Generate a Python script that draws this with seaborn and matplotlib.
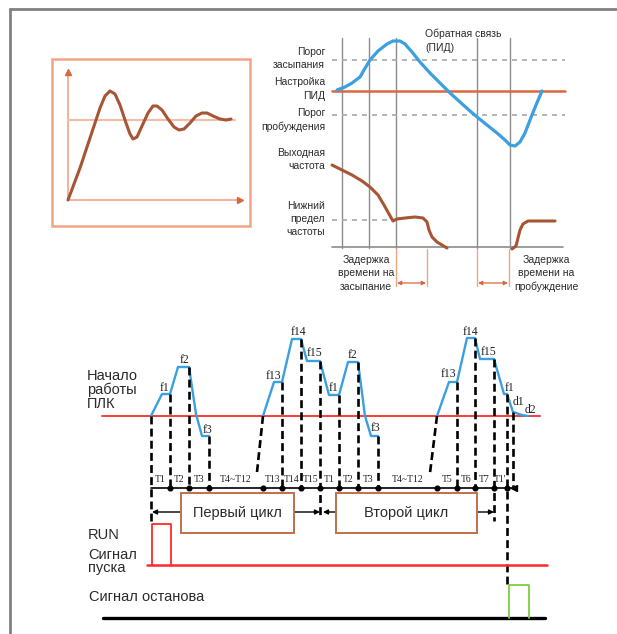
import matplotlib
matplotlib.use("Agg")
import matplotlib.pyplot as plt
from matplotlib.patches import Rectangle
import pandas as pd
import seaborn as sns

# ===================== DATA (pixel space of the original scheme) =====================
# left inset: PID step response
pid_x = [68, 80, 92, 100, 105, 110, 115, 120, 126, 130, 133, 137, 142, 148, 153, 157, 162,
         168, 174, 179, 184, 190, 196, 202, 207, 213, 220, 226, 231]
pid_y = [200, 168, 132, 108, 96, 91, 94, 105, 123, 134, 139, 137, 126, 113, 106, 106, 110,
         119, 127, 130, 129, 123, 116, 113, 113, 116, 119, 120, 119]
pid_setpoint = 120

# right top: sleep / wake diagram
feedback_x = [337, 345, 352, 360, 364, 370, 378, 387, 393, 400, 405, 412, 420, 430, 440, 450,
              460, 470, 477, 487, 497, 505, 510, 515, 520, 525, 530, 536, 542]
feedback_y = [90, 87, 83, 77, 70, 60, 51, 44, 41, 41, 44, 52, 62, 73, 83, 93,
              102, 111, 117, 125, 133, 140, 145, 146, 142, 133, 120, 105, 91]
freq_sleep_x = [332, 342, 352, 362, 370, 378, 384, 389, 393, 397, 405, 415, 423, 427, 429, 432, 437, 442, 447]
freq_sleep_y = [165, 170, 175, 181, 187, 195, 205, 214, 221, 219, 218, 217, 218, 222, 230, 237, 242, 245, 248]
freq_wake_x = [512, 516, 518, 520, 523, 528, 540, 555]
freq_wake_y = [249, 246, 238, 230, 224, 221, 221, 221]
level_sleep, level_pid, level_wake, level_fmin = 60, 91, 115, 220
time_marks = [342, 369, 396, 477, 510]
level_labels = [("Порог", 52), ("засыпания", 65), ("Настройка", 82), ("ПИД", 96),
                ("Порог", 113), ("пробуждения", 127), ("Выходная", 153), ("частота", 166),
                ("Нижний", 206), ("предел", 219), ("частоты", 232)]

# bottom: PLC multi-speed cycles
cycle1_x = [151, 162, 170, 178, 189, 196, 202, 209]
cycle1_y = [416, 394, 394, 367, 367, 414, 436, 436]
cycle2_x = [263, 274, 282, 292, 301, 307, 320, 329, 339, 348, 358, 365, 371, 378]
cycle2_y = [416, 382, 382, 339, 339, 361, 361, 395, 395, 362, 362, 416, 436, 436]
cycle3_x = [437, 449, 457, 467, 475, 480, 494, 504, 507, 513, 522, 528]
cycle3_y = [416, 382, 382, 338, 338, 359, 359, 394, 394, 412, 415, 416]
speed_labels = [("f1", 165, 388), ("f2", 185, 360), ("f3", 208, 430), ("f13", 273, 376),
                ("f14", 298, 332), ("f15", 315, 353), ("f1", 334, 388), ("f2", 353, 355),
                ("f3", 376, 428), ("f13", 448, 374), ("f14", 470, 332), ("f15", 489, 352),
                ("f1", 510, 388), ("d1", 518, 402), ("d2", 530, 410)]
drop_x = [151, 170, 189, 209, 282, 301, 320, 339, 358, 378, 457, 475, 494, 507, 513]
drop_top = [416, 394, 367, 436, 382, 339, 361, 395, 362, 436, 382, 338, 359, 394, 412]
drop_bottom = [524, 488, 488, 488, 488, 488, 517, 488, 488, 488, 488, 488, 521, 585, 488]
bounds = [151, 170, 189, 209, 263, 282, 301, 320, 339, 358, 378, 437, 457, 475, 494, 507, 514]
step_labels = ["T1", "T2", "T3", "T4~T12", "T13", "T14", "T15", "T1", "T2", "T3",
               "T4~T12", "T5", "T6", "T7", "T1'", ""]
run_x = [152, 152, 171, 171]
run_y = [565, 524, 524, 565]
stop_x = [509, 509, 529, 529]
stop_y = [618, 585, 585, 618]

BLUE = "#3b9fe0"
BROWN = "#a65535"
ORANGE = "#d9683f"
LIGHT_OR = "#f2a486"
GREY = "#8c8c8c"
RED = "#ff2a2a"
TXT = "#2b2b2b"

sns.set_theme(style="white")
plt.rcParams["font.family"] = ["Liberation Sans", "DejaVu Sans"]


def curve(ax, xs, ys, color, lw, **kw):
    df = pd.DataFrame({"x": xs, "y": ys})
    sns.lineplot(data=df, x="x", y="y", sort=False, estimator=None, color=color,
                 lw=lw, ax=ax, **kw)


fig = plt.figure(figsize=(6.17, 6.34), dpi=100)
ax = fig.add_axes([0, 0, 1, 1])

# ===================== FRAME =====================
ax.plot([10, 617], [9, 9], color="#808080", lw=2)
ax.plot([10, 10], [9, 634], color="#808080", lw=2)

# ===================== LEFT INSET =====================
ax.add_patch(Rectangle((52, 59), 198, 167, fill=False, ec=LIGHT_OR, lw=1.8))
ax.plot([68, 68], [200, 72], color=LIGHT_OR, lw=1.2)
ax.plot([68, 238], [200, 200], color=LIGHT_OR, lw=1.2)
ax.plot([68], [72], marker="^", color=ORANGE, ms=4)
ax.plot([240], [200], marker=">", color=ORANGE, ms=4)
ax.plot([68, 235], [pid_setpoint, pid_setpoint], color="#f5bca6", lw=1.5)
curve(ax, pid_x, pid_y, BROWN, 2.2)

# ===================== SLEEP / WAKE =====================
for xm in time_marks:
    ax.plot([xm, xm], [38, 248], color=GREY, lw=1.0)
ax.plot([332, 563], [247, 247], color=GREY, lw=1.2)
for lv in (level_sleep, level_wake):
    ax.plot([332, 565], [lv, lv], color="#a8a8a8", lw=1.2, ls=(0, (3, 3)))
ax.plot([332, 396], [level_fmin, level_fmin], color="#a8a8a8", lw=1.2, ls=(0, (3, 3)))
ax.plot([332, 565], [level_pid, level_pid], color=ORANGE, lw=1.8)
curve(ax, feedback_x, feedback_y, BLUE, 2.3)
curve(ax, freq_sleep_x, freq_sleep_y, BROWN, 2.2)
curve(ax, freq_wake_x, freq_wake_y, BROWN, 2.2)

for txt, yy in level_labels:
    ax.text(325, yy, txt, ha="right", va="center", fontsize=7.5, color=TXT)
ax.text(425, 34, "Обратная связь", ha="left", va="center", fontsize=7.5, color=TXT)
ax.text(425, 48, "(ПИД)", ha="left", va="center", fontsize=7.5, color=TXT)
for i, txt in enumerate(["Задержка", "времени на", "засыпание"]):
    ax.text(366, 260 + 13.5 * i, txt, ha="center", va="center", fontsize=7.5, color=TXT)
for i, txt in enumerate(["Задержка", "времени на", "пробуждение"]):
    ax.text(546, 260 + 13.5 * i, txt, ha="center", va="center", fontsize=7.5, color=TXT)

for xa, xb in [(396, 427), (477, 509)]:
    for xv in (xa, xb):
        ax.plot([xv, xv], [249, 286], color=LIGHT_OR, lw=1.0)
    ax.annotate("", xy=(xa + 1, 283), xytext=(xb - 1, 283),
                arrowprops=dict(arrowstyle="<|-|>", color=ORANGE, lw=0.9,
                                mutation_scale=6, shrinkA=0, shrinkB=0))

# ===================== PLC CYCLES =====================
ax.plot([102, 540], [416, 416], color=RED, lw=1.3)
for cx, cy in [(cycle1_x, cycle1_y), (cycle2_x, cycle2_y), (cycle3_x, cycle3_y)]:
    curve(ax, cx, cy, BLUE, 1.7)

dash = (0, (3, 1.6))
for xd, yt, yb in zip(drop_x, drop_top, drop_bottom):
    ax.plot([xd, xd], [yt, yb], color="black", lw=1.9, ls=dash)
ax.plot([263, 257], [416, 472], color="black", lw=1.9, ls=dash)
ax.plot([437, 430], [416, 473], color="black", lw=1.9, ls=dash)

ax.plot([151, 514], [488, 488], color="black", lw=1.2)
ax.plot(bounds[1:-1], [488] * (len(bounds) - 2), ls="none", marker="o", ms=3.4, color="black")
ax.plot([514], [488], marker="<", ms=4.5, color="black")
for xa, xb, lab in zip(bounds[:-1], bounds[1:], step_labels):
    if lab:
        ax.text((xa + xb) / 2, 480, lab, ha="center", va="center", fontsize=7,
                family=["Liberation Serif", "DejaVu Serif"], color="#222222")

for lab, lx, ly in speed_labels:
    ax.text(lx, ly, lab, ha="center", va="center", fontsize=8.5,
            family=["Liberation Serif", "DejaVu Serif"], color="#222222")

arrow_kw = dict(arrowstyle="-|>", color="black", lw=1.0, mutation_scale=7, shrinkA=0, shrinkB=0)
ax.annotate("", xy=(152, 512), xytext=(181, 512), arrowprops=arrow_kw)
ax.annotate("", xy=(320, 512), xytext=(294, 512), arrowprops=arrow_kw)
ax.annotate("", xy=(323, 512), xytext=(336, 512), arrowprops=arrow_kw)
ax.annotate("", xy=(494, 512), xytext=(477, 512), arrowprops=arrow_kw)
ax.add_patch(Rectangle((181, 493), 113, 40, fc="white", ec="#c0704a", lw=1.4, zorder=3))
ax.add_patch(Rectangle((336, 493), 141, 40, fc="white", ec="#c0704a", lw=1.4, zorder=3))
ax.text(237, 513, "Первый цикл", ha="center", va="center", fontsize=10.5, color=TXT, zorder=4)
ax.text(406, 513, "Второй цикл", ha="center", va="center", fontsize=10.5, color=TXT, zorder=4)

for txt, yy in [("Начало", 376), ("работы", 390), ("ПЛК", 404)]:
    ax.text(87, yy, txt, ha="left", va="center", fontsize=10.5, color=TXT)
for txt, yy in [("RUN", 535), ("Сигнал", 555), ("пуска", 568)]:
    ax.text(88, yy, txt, ha="left", va="center", fontsize=10.5, color=TXT)
ax.text(89, 597, "Сигнал останова", ha="left", va="center", fontsize=10.5, color=TXT)

ax.plot([147, 547], [565, 565], color=RED, lw=1.8)
curve(ax, run_x, run_y, RED, 1.3)
ax.plot([103, 545], [618, 618], color="black", lw=2.4)
curve(ax, stop_x, stop_y, "#7fcf3c", 1.3)

ax.set_xlim(0, 617)
ax.set_ylim(634, 0)
ax.axis("off")
fig.savefig("out.png", dpi=100)
